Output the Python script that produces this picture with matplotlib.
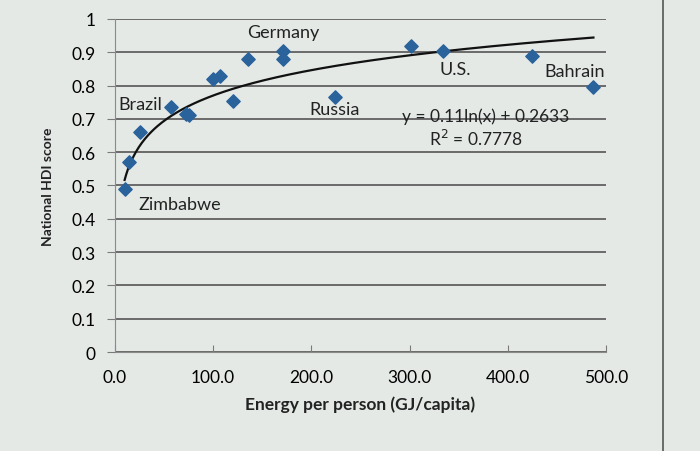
import numpy as np
import matplotlib.pyplot as plt
from matplotlib.lines import Line2D

plt.rcParams['font.family'] = ['Lato', 'DejaVu Sans']

# energy per person (GJ/capita) and HDI score
energy = [10, 14, 26, 57, 72, 76, 100, 107, 120, 136, 171, 171, 224, 301, 334, 425, 487]
hdi = [0.49, 0.57, 0.66, 0.735, 0.715, 0.71, 0.82, 0.83, 0.755, 0.88, 0.905, 0.88, 0.765, 0.92, 0.905, 0.89, 0.795]

labels = ['Germany', 'Brazil', 'Russia', 'U.S.', 'Bahrain', 'Zimbabwe']
label_x = [171, 26, 224, 346, 468, 66]
label_y = [0.96, 0.745, 0.73, 0.85, 0.845, 0.445]

# trendline stated on the chart
a, b = 0.11, 0.2633
r2 = 0.7778

xticks = [0, 100, 200, 300, 400, 500]
yticks = [0, 0.1, 0.2, 0.3, 0.4, 0.5, 0.6, 0.7, 0.8, 0.9, 1]

bg = '#e4e9e6'
fig = plt.figure(figsize=(7, 4.52), dpi=100, facecolor=bg)
ax = fig.add_axes([0.164, 0.219, 0.702, 0.737])
ax.set_facecolor(bg)

for yv in yticks:
    ax.axhline(yv, color='#6a6a6a', lw=1.4, zorder=1)

xs = np.linspace(min(energy), max(energy), 300)
ax.plot(xs, a*np.log(xs) + b, color='#111111', lw=1.6, zorder=2)
ax.scatter(energy, hdi, marker='D', s=46, color='#2a629c', zorder=3)

for t, tx, ty in zip(labels, label_x, label_y):
    ax.text(tx, ty, t, ha='center', va='center', fontsize=13, color='#222222')

ax.text(377, 0.71, 'y = 0.11ln(x) + 0.2633', ha='center', va='center', fontsize=12.5, color='#222222')
ax.text(367, 0.643, 'R$^2$ = %.4f' % r2, ha='center', va='center', fontsize=12.5, color='#222222')

ax.set_xlim(0, 500)
ax.set_ylim(0, 1)
ax.set_xticks(xticks)
ax.set_xticklabels(['%.1f' % v for v in xticks])
ax.set_yticks(yticks)
ax.set_yticklabels(['0' if v == 0 else ('1' if v == 1 else '%.1f' % v) for v in yticks])
ax.tick_params(axis='x', length=5, direction='in', color='#7a7a7a', labelsize=12.5, pad=12)
ax.tick_params(axis='y', length=6, direction='out', color='#7a7a7a', labelsize=12.5, pad=8)
for s in ['top', 'right']:
    ax.spines[s].set_visible(False)
ax.spines['left'].set_color('#8a8a8a')
ax.spines['bottom'].set_color('#8a8a8a')

ax.set_xlabel('Energy per person (GJ/capita)', fontsize=12.5, fontweight='bold', labelpad=8, color='#222222')
ax.set_ylabel('National HDI score', fontsize=10, fontweight='bold', labelpad=12, color='#222222')

fig.add_artist(Line2D([0.947, 0.947], [0, 1], transform=fig.transFigure, color='#555555', lw=1.2))

fig.savefig('out.png', dpi=100, facecolor=bg)
